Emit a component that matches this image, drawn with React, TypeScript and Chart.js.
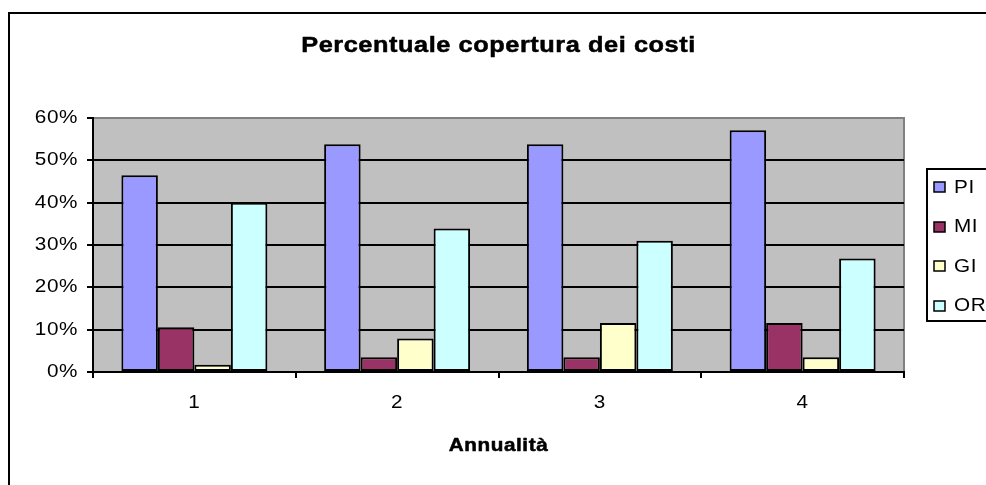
import React, { useEffect, useRef } from "react";
import { Chart, registerables } from "chart.js";

Chart.register(...registerables);

const categories = ["1", "2", "3", "4"];
const seriesNames = ["PI", "MI", "GI", "OR"];
const piValues = [0.465, 0.538, 0.538, 0.571];
const miValues = [0.106, 0.035, 0.035, 0.116];
const giValues = [0.017, 0.079, 0.116, 0.035];
const orValues = [0.4, 0.339, 0.31, 0.268];
const seriesColors = ["#9999FF", "#993366", "#FFFFCC", "#CCFFFF"];
const yTicks = [0, 0.1, 0.2, 0.3, 0.4, 0.5, 0.6];
const chartTitle = "Percentuale copertura dei costi";
const xTitle = "Annualità";

const FONT = "'Liberation Sans', Arial, sans-serif";
const SX = 1.15;
const LS = "0.5px";

const frame = {
  id: "frame",
  beforeDraw(chart: any) {
    const { ctx, chartArea: a } = chart;
    ctx.save();
    ctx.fillStyle = "#ffffff";
    ctx.fillRect(0, 0, chart.width, chart.height);
    ctx.fillStyle = "#000000";
    ctx.fillRect(8, 12, 2, chart.height);
    ctx.fillRect(8, 12, chart.width, 2);
    ctx.fillStyle = "#C0C0C0";
    ctx.fillRect(a.left, a.top, a.right - a.left, a.bottom - a.top);
    ctx.strokeStyle = "#808080";
    ctx.lineWidth = 2;
    ctx.beginPath();
    ctx.moveTo(a.left, a.top);
    ctx.lineTo(a.right, a.top);
    ctx.lineTo(a.right, a.bottom);
    ctx.stroke();
    ctx.restore();
  },
  afterDraw(chart: any) {
    const { ctx, chartArea: a } = chart;
    ctx.save();
    // title
    ctx.fillStyle = "#000";
    ctx.font = `bold 22px ${FONT}`;
    ctx.textAlign = "center";
    ctx.textBaseline = "middle";
    ctx.fillText(chartTitle, (a.left + a.right) / 2, 46);
    // legend
    const bx = a.right + 22;
    const by = a.top + 50;
    ctx.strokeStyle = "#000";
    ctx.lineWidth = 2;
    ctx.strokeRect(bx + 1, by + 1, 200, 152);
    ctx.font = `18px ${FONT}`;
    ctx.textAlign = "left";
    chart.data.datasets.forEach((ds: any, i: number) => {
      const cy = by + 19 + i * 39.5;
      ctx.fillStyle = ds.backgroundColor;
      ctx.fillRect(bx + 8, Math.round(cy - 5), 11, 10);
      ctx.strokeStyle = "#000";
      ctx.lineWidth = 1.5;
      ctx.strokeRect(bx + 8, Math.round(cy - 5), 11, 10);
      ctx.fillStyle = "#000";
      ctx.fillText(ds.label, bx + 28, cy + 1);
    });
    ctx.restore();
  },
};

export default function App() {
  const ref = useRef<HTMLCanvasElement>(null);
  useEffect(() => {
    const canvas = ref.current!;
    const ctx: any = canvas.getContext("2d");
    const origFill = ctx.fillText.bind(ctx);
    const origStroke = ctx.strokeText.bind(ctx);
    const origMeasure = ctx.measureText.bind(ctx);
    ctx.fillText = (text: string, x: number, y: number) => {
      ctx.save();
      ctx.letterSpacing = LS;
      ctx.translate(x, y);
      ctx.scale(SX, 1);
      origFill(text, 0, 0);
      if (String(ctx.font).indexOf("bold") >= 0) {
        ctx.strokeStyle = ctx.fillStyle;
        ctx.lineWidth = 0.5;
        ctx.lineJoin = "round";
        origStroke(text, 0, 0);
      }
      ctx.restore();
    };
    ctx.measureText = (text: string) => {
      const prev = ctx.letterSpacing;
      ctx.letterSpacing = LS;
      const m = origMeasure(text);
      ctx.letterSpacing = prev;
      return {
        width: m.width * SX,
        actualBoundingBoxAscent: m.actualBoundingBoxAscent,
        actualBoundingBoxDescent: m.actualBoundingBoxDescent,
        actualBoundingBoxLeft: m.actualBoundingBoxLeft * SX,
        actualBoundingBoxRight: m.actualBoundingBoxRight * SX,
        fontBoundingBoxAscent: m.fontBoundingBoxAscent,
        fontBoundingBoxDescent: m.fontBoundingBoxDescent,
      };
    };
    const values = [piValues, miValues, giValues, orValues];
    const chart = new Chart(canvas, {
      type: "bar",
      data: {
        labels: categories,
        datasets: seriesNames.map((name, i) => ({
          label: name,
          data: values[i],
          backgroundColor: seriesColors[i],
          borderColor: "#000",
          borderWidth: 2,
          borderSkipped: false,
          categoryPercentage: 0.72,
          barPercentage: 1,
        })),
      },
      options: {
        responsive: false,
        animation: false,
        devicePixelRatio: 1,
        layout: { padding: { left: 0, right: 82, top: 118, bottom: 0 } },
        plugins: {
          legend: { display: false },
          title: { display: false },
          tooltip: { enabled: false },
        },
        scales: {
          x: {
            grid: {
              display: true,
              drawOnChartArea: false,
              drawTicks: true,
              tickLength: 6,
              offset: true,
              color: "#000",
              lineWidth: 2,
            },
            border: { display: true, color: "#000", width: 2 },
            ticks: { color: "#000", font: { family: FONT, size: 18 }, padding: 14 },
            title: {
              display: true,
              text: xTitle,
              color: "#000",
              font: { family: FONT, size: 18, weight: "bold" },
              padding: { top: 0, bottom: 28 },
            },
            afterFit(scale: any) {
              scale.height = 113;
            },
          },
          y: {
            min: 0,
            max: 0.6,
            afterBuildTicks(scale: any) {
              scale.ticks = yTicks.map((v) => ({ value: v }));
            },
            grid: {
              color: (c: any) => (c.tick && c.tick.value >= 0.6 - 1e-9 ? "#808080" : "#000"),
              tickColor: "#000",
              tickLength: 6,
              lineWidth: 2,
            },
            border: { display: true, color: "#000", width: 2 },
            ticks: {
              color: "#000",
              font: { family: FONT, size: 18 },
              padding: 9,
              callback: (v: any) => Math.round(Number(v) * 100) + "%",
            },
            afterFit(scale: any) {
              scale.width = 93;
            },
          },
        },
      },
      plugins: [frame],
    });
    return () => chart.destroy();
  }, []);
  return (
    <div
      style={{
        position: "fixed",
        left: 0,
        top: 0,
        width: 986,
        height: 485,
        overflow: "hidden",
        background: "#fff",
      }}
    >
      <canvas ref={ref} width={986} height={485} style={{ display: "block" }} />
    </div>
  );
}
